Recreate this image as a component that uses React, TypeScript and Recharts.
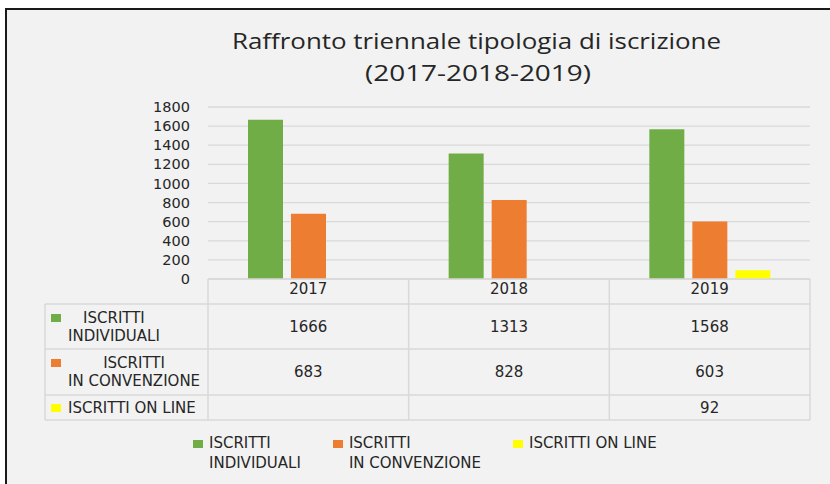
import React from 'react';
import { BarChart, Bar, XAxis, YAxis, CartesianGrid } from 'recharts';

// chart values
const years = ['2017', '2018', '2019'];
const iscrittiIndividuali = [1666, 1313, 1568];
const iscrittiConvenzione = [683, 828, 603];
const iscrittiOnLine: (number | null)[] = [null, null, 92];
const yTicks = [0, 200, 400, 600, 800, 1000, 1200, 1400, 1600, 1800];

const series = [
  { key: 'individuali', lines: ['ISCRITTI', 'INDIVIDUALI'], color: '#70ad47', values: iscrittiIndividuali },
  { key: 'convenzione', lines: ['ISCRITTI', 'IN CONVENZIONE'], color: '#ed7d31', values: iscrittiConvenzione },
  { key: 'online', lines: ['ISCRITTI ON LINE'], color: '#ffff00', values: iscrittiOnLine },
];

const chartData = years.map((year, i) => ({
  year,
  individuali: iscrittiIndividuali[i],
  convenzione: iscrittiConvenzione[i],
  online: iscrittiOnLine[i],
}));

const FONT = '"DejaVu Sans", Verdana, sans-serif';
const TEXT = '#262626';
const GRID = '#d9d9d9';

// plot geometry (px, page coordinates)
const PLOT_LEFT = 208;
const PLOT_RIGHT = 810;
const PLOT_TOP = 107;
const PLOT_BOTTOM = 279;
const TABLE_LEFT = 45;
const rowEdges = [304, 349, 395, 420];
const colW = (PLOT_RIGHT - PLOT_LEFT) / years.length;
const colEdges = years.map((_, i) => PLOT_LEFT + i * colW).concat(PLOT_RIGHT);

const Swatch = ({ color, top }: { color: string; top: number }) => (
  <span style={{ display: 'inline-block', width: 10, height: 8, background: color, marginTop: top, marginRight: 6, flex: 'none' }} />
);

export default function App() {
  return (
    <div style={{ position: 'relative', width: 830, height: 484, background: '#fff', overflow: 'hidden', fontFamily: FONT }}>
      <style>{'body{margin:0}'}</style>

      {/* gray chart panel with dark frame */}
      <div style={{
        position: 'absolute', left: 5, top: 8, width: 840, height: 490,
        background: '#f2f2f2', borderLeft: '2px solid #1a1a1a', borderTop: '2px solid #1a1a1a',
      }} />

      {/* title */}
      <svg width={830} height={100} style={{ position: 'absolute', left: 0, top: 0 }}>
        <text x={476.5} y={49} textAnchor="middle" fontFamily="'Open Sans', sans-serif" fontSize={22.5}
          fill={TEXT} textLength={489} lengthAdjust="spacingAndGlyphs">
          Raffronto triennale tipologia di iscrizione
        </text>
        <text x={478} y={81} textAnchor="middle" fontFamily="'Open Sans', sans-serif" fontSize={22.5}
          fill={TEXT} textLength={226} lengthAdjust="spacingAndGlyphs">
          (2017-2018-2019)
        </text>
      </svg>

      <div style={{ position: 'absolute', left: 0, top: 0 }}>
        <BarChart
          width={830}
          height={PLOT_BOTTOM + 25}
          data={chartData}
          margin={{ top: PLOT_TOP, right: 830 - PLOT_RIGHT, bottom: 0, left: 0 }}
          barSize={35}
          barGap={8}
        >
          <CartesianGrid vertical={false} stroke={GRID} strokeWidth={1.3} />
          <XAxis
            dataKey="year"
            height={25}
            axisLine={false}
            tickLine={false}
            tickSize={0}
            tickMargin={4}
            tick={{ fontSize: 15, fill: TEXT, fontFamily: FONT }}
          />
          <YAxis
            width={PLOT_LEFT}
            domain={[0, 1800]}
            ticks={yTicks}
            axisLine={false}
            tickLine={false}
            tickSize={0}
            tickMargin={18}
            interval={0}
            tick={{ fontSize: 14.5, fill: TEXT, fontFamily: FONT }}
          />
          {series.map((s) => (
            <Bar key={s.key} dataKey={s.key} fill={s.color} isAnimationActive={false} />
          ))}
        </BarChart>
      </div>

      {/* data table grid */}
      <svg width={830} height={484} style={{ position: 'absolute', left: 0, top: 0, pointerEvents: 'none' }}>
        <line x1={PLOT_LEFT} x2={PLOT_RIGHT} y1={PLOT_BOTTOM} y2={PLOT_BOTTOM} stroke={GRID} strokeWidth={1.5} />
        {rowEdges.map((y) => (
          <line key={y} x1={TABLE_LEFT} x2={PLOT_RIGHT} y1={y} y2={y} stroke={GRID} strokeWidth={1.5} />
        ))}
        <line x1={TABLE_LEFT} x2={TABLE_LEFT} y1={rowEdges[0]} y2={rowEdges[rowEdges.length - 1]} stroke={GRID} strokeWidth={1.5} />
        {colEdges.map((x) => (
          <line key={x} x1={x} x2={x} y1={PLOT_BOTTOM} y2={rowEdges[rowEdges.length - 1]} stroke={GRID} strokeWidth={1.5} />
        ))}
      </svg>

      {/* table rows */}
      {series.map((s, r) => {
        const top = rowEdges[r];
        const h = rowEdges[r + 1] - top;
        return (
          <React.Fragment key={s.key}>
            <div style={{
              position: 'absolute', left: TABLE_LEFT + 6, top, height: h, width: PLOT_LEFT - TABLE_LEFT - 6,
              display: 'flex', alignItems: 'center', fontSize: 15, lineHeight: '18px', color: TEXT,
            }}>
              <div style={{ display: 'flex', alignItems: 'flex-start' }}>
                <Swatch color={s.color} top={5} />
                <span style={{ display: 'inline-block', textAlign: 'center', marginLeft: 1, whiteSpace: 'nowrap' }}>
                  {s.lines.map((l, i) => (<div key={i}>{l}</div>))}
                </span>
              </div>
            </div>
            {s.values.map((v, c) => (
              <div key={c} style={{
                position: 'absolute', left: colEdges[c], top, width: colW, height: h,
                display: 'flex', alignItems: 'center', justifyContent: 'center',
                fontSize: 15, color: TEXT,
              }}>
                {v == null ? '' : v}
              </div>
            ))}
          </React.Fragment>
        );
      })}

      {/* legend */}
      <div style={{
        position: 'absolute', left: 193, top: 433, display: 'flex', gap: 32,
        fontSize: 15, lineHeight: '20px', color: TEXT,
      }}>
        {series.map((s) => (
          <div key={s.key} style={{ display: 'flex', alignItems: 'flex-start' }}>
            <Swatch color={s.color} top={7} />
            <div style={{ whiteSpace: 'nowrap' }}>
              {s.lines.map((l, i) => (<div key={i}>{l}</div>))}
            </div>
          </div>
        ))}
      </div>
    </div>
  );
}
